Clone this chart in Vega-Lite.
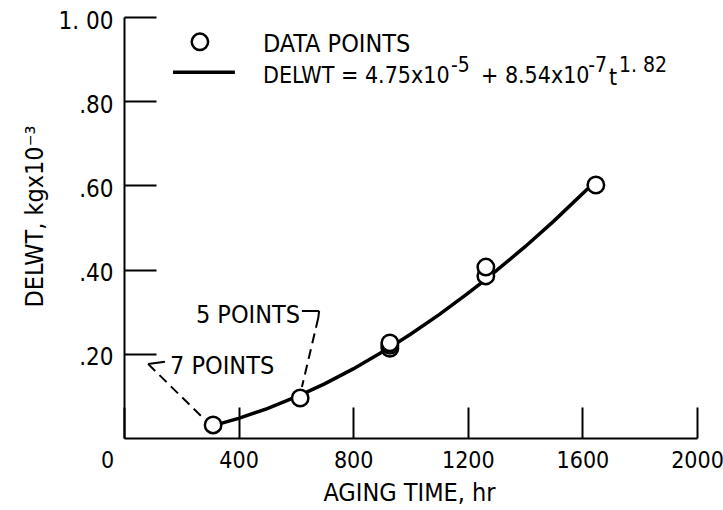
{
  "$schema": "https://vega.github.io/schema/vega-lite/v6.json",
  "width": 573,
  "height": 421,
  "autosize": {"type": "none"},
  "padding": {"left": 124, "top": 17, "right": 26, "bottom": 72},
  "background": "white",
  "config": {
    "view": {"stroke": null},
    "font": "Liberation Sans Narrow, DejaVu Sans Condensed, sans-serif"
  },
  "datasets": {
    "curve": [
      {"t": 311, "w": 0.0294}, {"t": 400, "w": 0.0465}, {"t": 500, "w": 0.0698},
      {"t": 615, "w": 0.1017}, {"t": 700, "w": 0.1287}, {"t": 800, "w": 0.1641},
      {"t": 928, "w": 0.2150}, {"t": 1000, "w": 0.2463}, {"t": 1100, "w": 0.2930},
      {"t": 1200, "w": 0.3433}, {"t": 1263, "w": 0.3768}, {"t": 1400, "w": 0.4544},
      {"t": 1500, "w": 0.5152}, {"t": 1647, "w": 0.6107}
    ],
    "points": [
      {"t": 311, "w": 0.031}, {"t": 615, "w": 0.095},
      {"t": 928, "w": 0.213}, {"t": 928, "w": 0.220}, {"t": 928, "w": 0.226},
      {"t": 1263, "w": 0.385}, {"t": 1263, "w": 0.406},
      {"t": 1647, "w": 0.601}
    ],
    "leaders": [
      {"t": 143, "w": 0.181, "t2": 84, "w2": 0.176, "dash": false},
      {"t": 84, "w": 0.176, "t2": 276, "w2": 0.0475, "dash": true},
      {"t": 621, "w": 0.3017, "t2": 681, "w2": 0.3017, "dash": false},
      {"t": 681, "w": 0.3017, "t2": 678, "w2": 0.285, "dash": false},
      {"t": 678, "w": 0.285, "t2": 621, "w2": 0.121, "dash": true}
    ],
    "notes": [
      {"t": 160.6, "w": 0.152, "label": "7 POINTS"},
      {"t": 251, "w": 0.273, "label": "5 POINTS"},
      {"t": 485, "w": 0.917, "label": "DATA POINTS"}
    ],
    "formula": [
      {"t": 485, "w": 0.8432, "label": "DELWT = 4.75x10"},
      {"t": 1246, "w": 0.8432, "label": "+ 8.54x10"},
      {"t": 1693, "w": 0.8385, "label": "t"}
    ],
    "sups": [
      {"t": 1141, "w": 0.8694, "label": "-5"},
      {"t": 1620, "w": 0.8694, "label": "-7"},
      {"t": 1728, "w": 0.8694, "label": "1. 82"}
    ],
    "legsym": [{"t": 265, "w": 0.941}],
    "legline": [{"t": 171, "w": 0.869, "t2": 387, "w2": 0.869}]
  },
  "encoding": {
    "x": {
      "field": "t", "type": "quantitative",
      "scale": {"domain": [0, 2000], "nice": false, "zero": false},
      "axis": {
        "values": [0, 400, 800, 1200, 1600, 2000],
        "format": "d",
        "grid": false,
        "tickSize": -31, "tickWidth": 2, "tickColor": "black",
        "domainWidth": 2, "domainColor": "black",
        "labelPadding": 42, "labelFontSize": 23, "labelColor": "black",
        "labelFont": "Liberation Sans Narrow, DejaVu Sans Condensed, sans-serif",
        "labelOffset": {"condition": {"test": "datum.value === 0", "value": -17}, "value": 0},
        "labelFlush": false, "labelOverlap": false,
        "title": "AGING TIME, hr",
        "titleFont": "Liberation Sans Narrow, DejaVu Sans Condensed, sans-serif",
        "titleFontSize": 25, "titleFontWeight": "normal", "titleColor": "black",
        "titleBaseline": "alphabetic", "titleAlign": "center",
        "titleX": 285, "titleY": 62
      }
    },
    "y": {
      "field": "w", "type": "quantitative",
      "scale": {"domain": [0, 1], "nice": false},
      "axis": {
        "values": [0.2, 0.4, 0.6, 0.8, 1.0],
        "grid": false,
        "tickSize": -32, "tickWidth": 2, "tickColor": "black",
        "domainWidth": 2, "domainColor": "black",
        "labelPadding": 43, "labelFontSize": 24, "labelColor": "black",
        "labelFont": "Liberation Sans Narrow, DejaVu Sans Condensed, sans-serif",
        "labelExpr": "datum.value >= 0.99 ? '1. 00' : replace(format(datum.value, '.2f'), '0.', '.')",
        "labelBaseline": "middle", "labelOffset": 4,
        "labelFlush": false, "labelOverlap": false,
        "title": "DELWT, kgx10⁻³",
        "titleFont": "Liberation Sans Narrow, DejaVu Sans Condensed, sans-serif",
        "titleFontSize": 25, "titleFontWeight": "normal", "titleColor": "black",
        "titleAngle": -90, "titleAlign": "center", "titleBaseline": "alphabetic",
        "titleX": -82, "titleY": 199
      }
    }
  },
  "layer": [
    {
      "data": {"name": "curve"},
      "mark": {"type": "line", "color": "black", "strokeWidth": 3.5}
    },
    {
      "data": {"name": "leaders"},
      "transform": [{"filter": "datum.dash"}],
      "mark": {"type": "rule", "color": "black", "strokeWidth": 2, "strokeDash": [10, 6]},
      "encoding": {"x2": {"field": "t2"}, "y2": {"field": "w2"}}
    },
    {
      "data": {"name": "leaders"},
      "transform": [{"filter": "!datum.dash"}],
      "mark": {"type": "rule", "color": "black", "strokeWidth": 2},
      "encoding": {"x2": {"field": "t2"}, "y2": {"field": "w2"}}
    },
    {
      "data": {"name": "legline"},
      "mark": {"type": "rule", "color": "black", "strokeWidth": 3.5},
      "encoding": {"x2": {"field": "t2"}, "y2": {"field": "w2"}}
    },
    {
      "data": {"name": "points"},
      "mark": {"type": "point", "shape": "circle", "size": 270, "filled": true, "fill": "white", "stroke": "black", "strokeWidth": 2.5, "opacity": 1}
    },
    {
      "data": {"name": "legsym"},
      "mark": {"type": "point", "shape": "circle", "size": 270, "filled": true, "fill": "white", "stroke": "black", "strokeWidth": 2.5, "opacity": 1}
    },
    {
      "data": {"name": "notes"},
      "mark": {"type": "text", "align": "left", "baseline": "alphabetic", "fontSize": 25, "color": "black"},
      "encoding": {"text": {"field": "label"}}
    },
    {
      "data": {"name": "formula"},
      "mark": {"type": "text", "align": "left", "baseline": "alphabetic", "fontSize": 23, "color": "black"},
      "encoding": {"text": {"field": "label"}}
    },
    {
      "data": {"name": "sups"},
      "mark": {"type": "text", "align": "left", "baseline": "alphabetic", "fontSize": 21, "color": "black"},
      "encoding": {"text": {"field": "label"}}
    }
  ]
}
